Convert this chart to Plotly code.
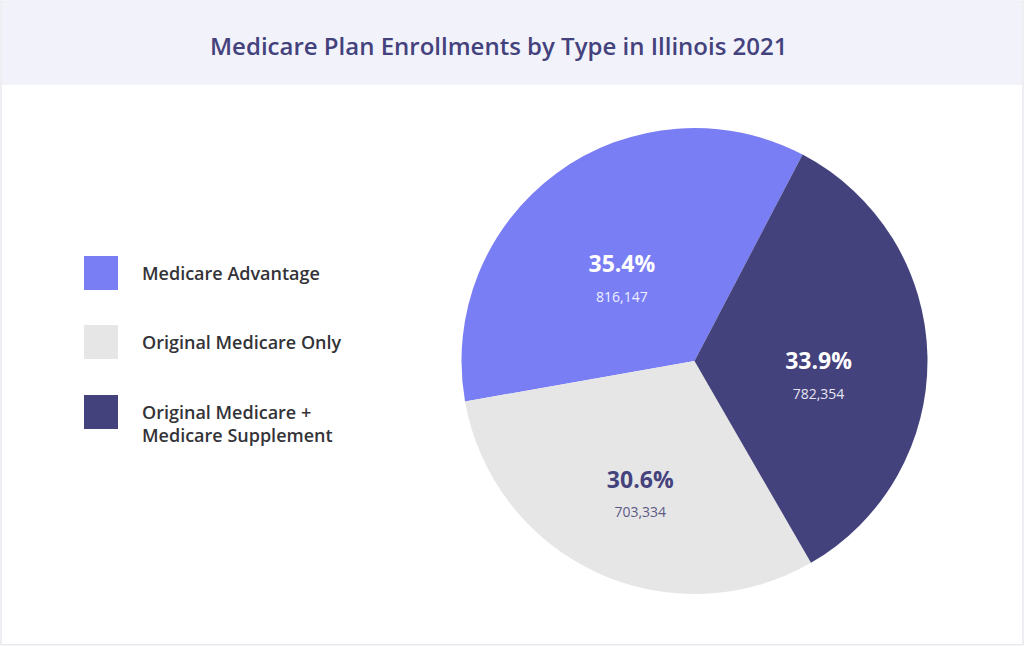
import plotly.graph_objects as go

# ---- data ----
categories = ["Medicare Advantage", "Original Medicare Only", "Original Medicare +<br>Medicare Supplement"]
enrollments = [816147, 703334, 782354]
pct_labels = ["35.4%", "30.6%", "33.9%"]
colors = ["#7a7ef5", "#e6e6e6", "#44427d"]
label_colors = ["#ffffff", "#44427d", "#ffffff"]
value_colors = ["#eef0ff", "#5d5b86", "#e6e6f2"]
title_text = "Medicare Plan Enrollments by Type in Illinois 2021"

W, H = 1024, 646
FONT = "Open Sans"

texts = [
    f"\u00a0<br><b>{p}</b><br><span style='font-size:14px;color:{vc}'>{v:,}</span>"
    for p, v, vc in zip(pct_labels, enrollments, value_colors)
]

cx, cy, R = 694.5, 361, 233
fig = go.Figure(
    go.Pie(
        labels=categories,
        values=enrollments,
        text=texts,
        textinfo="text",
        textposition="inside",
        insidetextorientation="horizontal",
        insidetextfont=dict(family=FONT, size=23, color=label_colors),
        marker=dict(colors=colors, line=dict(width=0)),
        sort=False,
        direction="counterclockwise",
        rotation=260,
        hoverinfo="skip",
        showlegend=False,
        domain=dict(x=[(cx - R) / W, (cx + R) / W], y=[(H - cy - R) / H, (H - cy + R) / H]),
    )
)

shapes = [
    # outer light border
    dict(type="rect", xref="paper", yref="paper", x0=0.001, x1=0.999, y0=0.002, y1=0.998,
         line=dict(color="#e9e9ef", width=1.5), fillcolor="rgba(0,0,0,0)", layer="below"),
    # title band
    dict(type="rect", xref="paper", yref="paper", x0=0.002, x1=0.998, y0=1 - 85 / H, y1=0.998,
         line=dict(width=0), fillcolor="#f2f2fb", layer="below"),
]
annotations = [
    dict(text=title_text, xref="paper", yref="paper", x=499 / W, y=1 - 45 / H,
         xanchor="center", yanchor="middle", showarrow=False,
         font=dict(family=FONT, size=24, color="#44427d", weight=600)),
]

# custom legend (large swatches)
sw_top = [256, 325, 395]
for i, (cat, col) in enumerate(zip(categories, colors)):
    t = sw_top[i]
    shapes.append(dict(type="rect", xref="paper", yref="paper",
                       x0=84 / W, x1=118 / W, y0=1 - (t + 34) / H, y1=1 - t / H,
                       line=dict(width=0), fillcolor=col))
    ty = t + 17 if "<br>" not in cat else t + 28
    annotations.append(dict(text=cat, xref="paper", yref="paper", x=140 / W, y=1 - ty / H,
                            xanchor="left", yanchor="middle", align="left", showarrow=False,
                            font=dict(family=FONT, size=18, color="#333338", weight=600)))

fig.update_layout(
    width=W, height=H,
    margin=dict(l=0, r=0, t=0, b=0),
    paper_bgcolor="#ffffff",
    plot_bgcolor="#ffffff",
    shapes=shapes,
    annotations=annotations,
    font=dict(family=FONT),
)

fig.write_html("out.html")
